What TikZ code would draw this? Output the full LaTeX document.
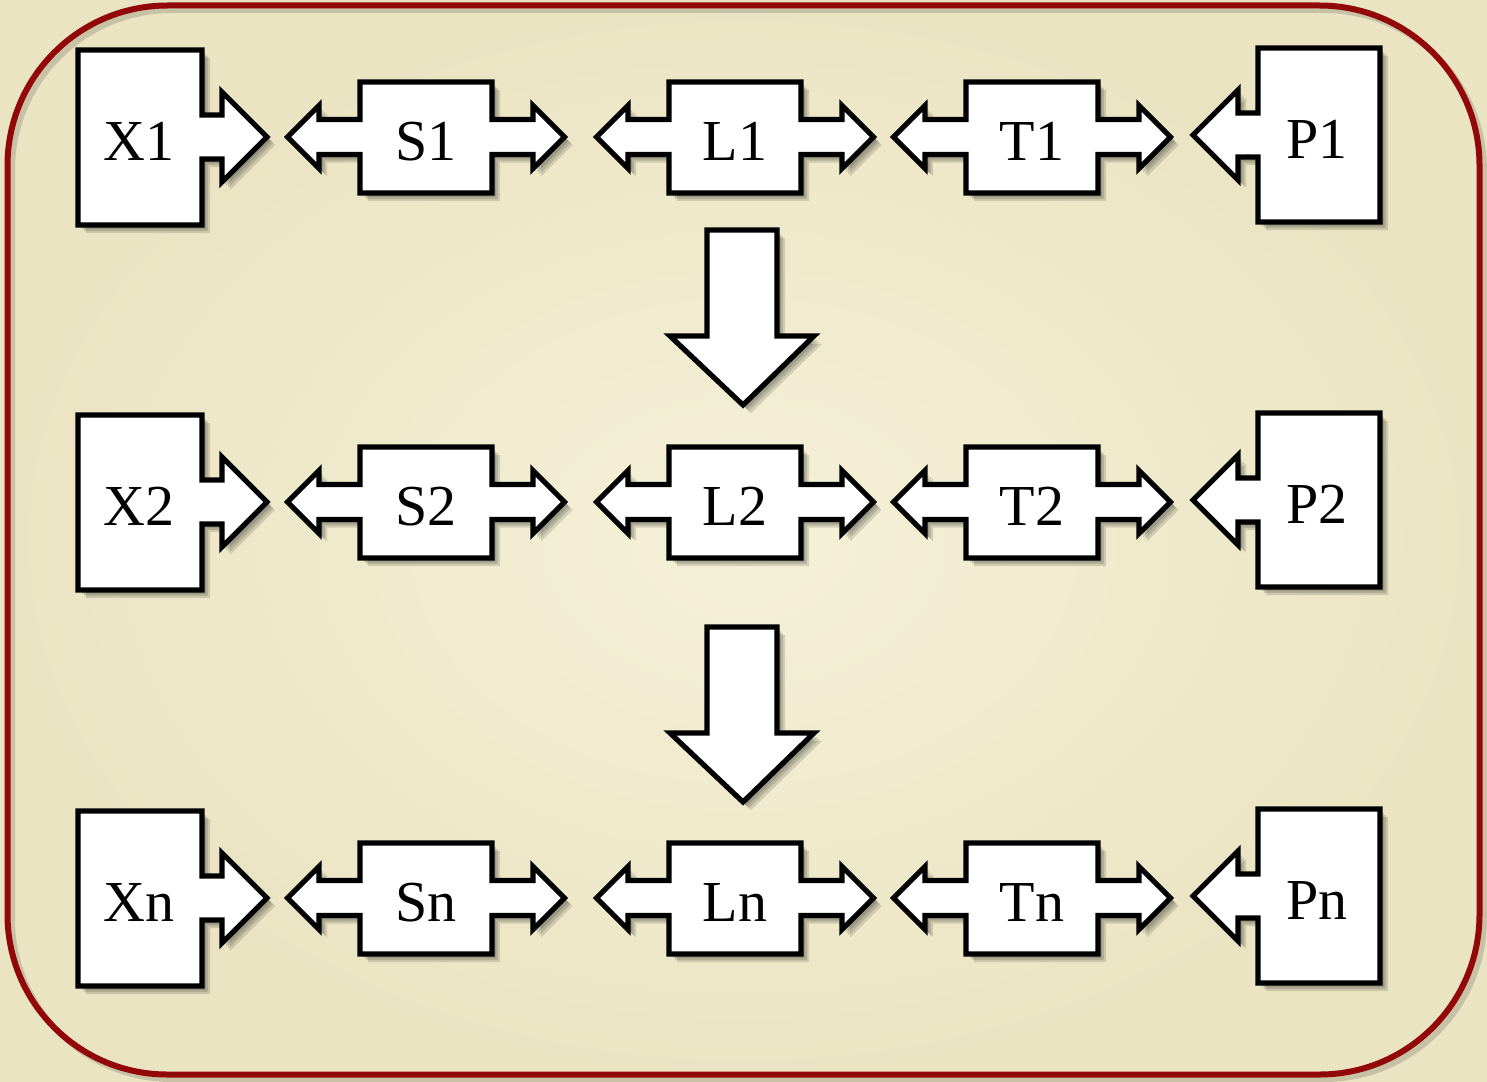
\documentclass[tikz,border=0pt]{standalone}
\usepackage{fontspec}
\setmainfont{Liberation Serif}
\definecolor{paper}{RGB}{245,241,216}
\definecolor{paperedge}{RGB}{235,228,195}
\definecolor{frame}{RGB}{146,8,8}
\newcommand{\xblock}{(78,-87) -- (202,-87) -- (202,-22) -- (222,-22) -- (222,-45) -- (267,0) -- (222,45) -- (222,22) -- (202,22) -- (202,88) -- (78,88) -- cycle}
\newcommand{\pblock}{(1380,-89) -- (1258,-89) -- (1258,-24) -- (1238,-24) -- (1238,-47) -- (1193,-2) -- (1238,43) -- (1238,20) -- (1258,20) -- (1258,85) -- (1380,85) -- cycle}
\newcommand{\sblock}{(-66,-55) -- (66,-55) -- (66,-17.5) -- (107,-17.5) -- (107,-31.5) -- (138.5,0) -- (107,31.5) -- (107,17.5) -- (66,17.5) -- (66,56) -- (-66,56) -- (-66,17.5) -- (-107,17.5) -- (-107,31.5) -- (-138.5,0) -- (-107,-31.5) -- (-107,-17.5) -- (-66,-17.5) -- cycle}
\newcommand{\vblock}{(707,0) -- (777,0) -- (777,106) -- (814,106) -- (743,175) -- (670,106) -- (707,106) -- cycle}
\newcommand{\shadowed}[1]{\foreach \sh in {1,...,4} \fill[shadowlayer,shift={(2*\sh,2*\sh)}] #1; \draw[block] #1;}
\begin{document}
\begin{tikzpicture}[x=0.5pt,y=-0.5pt,
	block/.style={draw=black,fill=white,line width=2.6pt,line join=miter},
	shadowlayer/.style={fill=black,opacity=0.13},
	boxtext/.style={font=\fontsize{29}{30}\selectfont,anchor=base,inner sep=0pt}]
	\useasboundingbox (0,0) rectangle (1487,1081);
	\shade[inner color=paper,outer color=paperedge] (0,0) rectangle (1487,1081);
	\draw[line width=3pt,black,opacity=0.15,rounded corners=80pt] (12,10) rectangle (1484,1079);
	\draw[line width=3pt,frame,rounded corners=80pt] (7.5,5.5) rectangle (1479.5,1074.5);
	
	\foreach \y/\k in {137/1,502/2,898/n}{
		\begin{scope}[shift={(0,\y)}]
			\shadowed{\xblock}
			\node[boxtext] (X\k) at (139,23) {X\k};
			\shadowed{\pblock}
			\node[boxtext] (P\k) at (1317,21) {P\k};
			\foreach \cx/\nm in {426/S,735/L,1032/T}{
				\begin{scope}[shift={(\cx,0)}]
					\shadowed{\sblock}
					\node[boxtext] (\nm\k) at (0,23) {\nm\k};
				\end{scope}
			}
		\end{scope}
	}
	
	\foreach \ay in {230,627}{
		\begin{scope}[shift={(0,\ay)}]
			\shadowed{\vblock}
		\end{scope}
	}
\end{tikzpicture}
\end{document}
